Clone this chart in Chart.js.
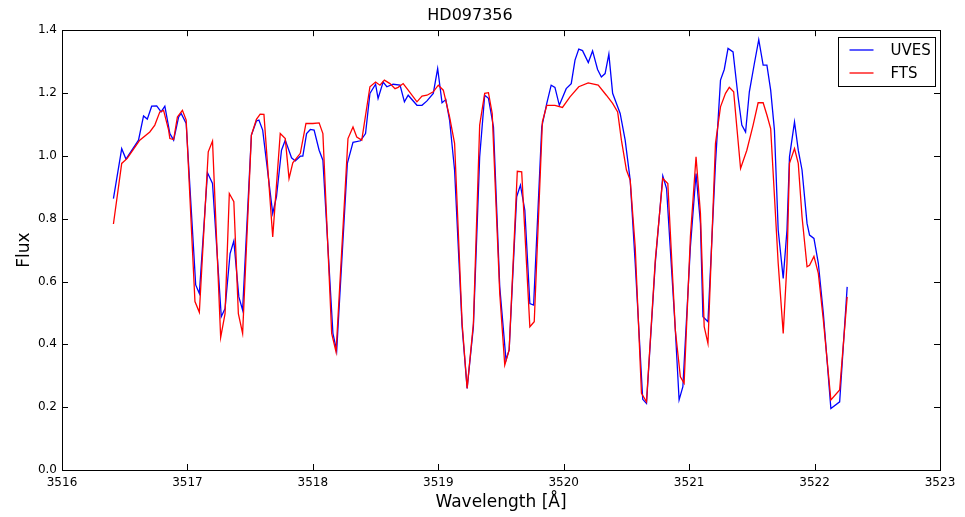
<!DOCTYPE html>
<html>
<head>
<meta charset="utf-8">
<title>HD097356</title>
<script src="https://cdn.jsdelivr.net/npm/chart.js@4.4.1/dist/chart.umd.min.js"></script>
<style>
    html, body { margin: 0; padding: 0; background: #fff; }
    #wrap { width: 965px; height: 517px; }
</style>
</head>
<body>
<div id="wrap"><canvas id="spectrumChart"></canvas></div>
<script>
// ========================================
// DATA
// ========================================
const uvesWave = [
    3516.41, 3516.476, 3516.51, 3516.61, 3516.65, 3516.68, 3516.715, 3516.755, 3516.79, 3516.82,
    3516.86, 3516.89, 3516.93, 3516.95, 3516.99, 3517.066, 3517.095, 3517.16, 3517.20, 3517.27,
    3517.30, 3517.34, 3517.37, 3517.41, 3517.44, 3517.51, 3517.55, 3517.57, 3517.60, 3517.68,
    3517.71, 3517.75, 3517.78, 3517.83, 3517.86, 3517.90, 3517.92, 3517.95, 3517.98, 3518.01,
    3518.05, 3518.08, 3518.16, 3518.19, 3518.275, 3518.32, 3518.38, 3518.42, 3518.455, 3518.50,
    3518.52, 3518.56, 3518.59, 3518.64, 3518.695, 3518.73, 3518.76, 3518.83, 3518.87, 3518.91,
    3518.96, 3518.995, 3519.03, 3519.06, 3519.09, 3519.13, 3519.19, 3519.23, 3519.28, 3519.33,
    3519.37, 3519.40, 3519.44, 3519.49, 3519.54, 3519.565, 3519.625, 3519.655, 3519.69, 3519.73,
    3519.76, 3519.825, 3519.865, 3519.90, 3519.93, 3519.965, 3520.02, 3520.06, 3520.09, 3520.12,
    3520.15, 3520.196, 3520.23, 3520.27, 3520.30, 3520.33, 3520.36, 3520.39, 3520.45, 3520.49,
    3520.53, 3520.57, 3520.63, 3520.66, 3520.73, 3520.79, 3520.82, 3520.89, 3520.92, 3520.95,
    3521.01, 3521.055, 3521.09, 3521.11, 3521.15, 3521.21, 3521.25, 3521.28, 3521.31, 3521.35,
    3521.39, 3521.42, 3521.45, 3521.48, 3521.52, 3521.555, 3521.59, 3521.62, 3521.65, 3521.68,
    3521.71, 3521.75, 3521.78, 3521.80, 3521.84, 3521.87, 3521.90, 3521.94, 3521.96, 3521.995,
    3522.03, 3522.07, 3522.13, 3522.20, 3522.26
];
const uvesFlux = [
    0.864, 1.023, 0.99, 1.05, 1.127, 1.117, 1.158, 1.159, 1.14, 1.158,
    1.071, 1.05, 1.124, 1.135, 1.103, 0.589, 0.562, 0.946, 0.912, 0.488,
    0.514, 0.689, 0.729, 0.551, 0.509, 1.066, 1.111, 1.114, 1.082, 0.817,
    0.87, 1.018, 1.05, 0.994, 0.984, 0.999, 0.999, 1.071, 1.084, 1.082,
    1.018, 0.986, 0.435, 0.38, 0.976, 1.043, 1.048, 1.071, 1.199, 1.228,
    1.183, 1.235, 1.22, 1.228, 1.225, 1.172, 1.193, 1.161, 1.161, 1.175,
    1.199, 1.278, 1.169, 1.179, 1.114, 0.954, 0.456, 0.26, 0.456, 0.997,
    1.193, 1.183, 1.092, 0.583, 0.35, 0.382, 0.87, 0.907, 0.827, 0.53,
    0.525, 1.092, 1.167, 1.225, 1.218, 1.161, 1.214, 1.23, 1.305, 1.34,
    1.335, 1.297, 1.334, 1.275, 1.251, 1.262, 1.324, 1.199, 1.135, 1.05,
    0.923, 0.658, 0.225, 0.212, 0.658, 0.936, 0.896, 0.445, 0.223, 0.265,
    0.71, 0.944, 0.785, 0.488, 0.472, 0.976, 1.241, 1.275, 1.342, 1.331,
    1.188, 1.098, 1.076, 1.204, 1.294, 1.37, 1.289, 1.289, 1.209, 1.082,
    0.764, 0.61, 0.764, 0.997, 1.108, 1.018, 0.955, 0.785, 0.748, 0.737,
    0.658, 0.498, 0.196, 0.217, 0.583
];

const ftsWave = [
    3516.41, 3516.476, 3516.52, 3516.62, 3516.70, 3516.74, 3516.78, 3516.81, 3516.85, 3516.86,
    3516.89, 3516.92, 3516.96, 3516.99, 3517.06, 3517.095, 3517.166, 3517.20, 3517.265, 3517.30,
    3517.334, 3517.37, 3517.406, 3517.44, 3517.51, 3517.55, 3517.58, 3517.61, 3517.68, 3517.74,
    3517.78, 3517.81, 3517.84, 3517.90, 3517.945, 3518.00, 3518.05, 3518.08, 3518.15, 3518.185,
    3518.28, 3518.32, 3518.35, 3518.39, 3518.455, 3518.50, 3518.535, 3518.57, 3518.615, 3518.655,
    3518.68, 3518.72, 3518.76, 3518.83, 3518.87, 3518.91, 3518.96, 3519.00, 3519.04, 3519.09,
    3519.13, 3519.19, 3519.23, 3519.28, 3519.33, 3519.37, 3519.40, 3519.43, 3519.49, 3519.53,
    3519.565, 3519.63, 3519.665, 3519.73, 3519.765, 3519.83, 3519.865, 3519.93, 3519.99, 3520.05,
    3520.12, 3520.195, 3520.275, 3520.34, 3520.39, 3520.43, 3520.46, 3520.50, 3520.53, 3520.57,
    3520.62, 3520.66, 3520.73, 3520.79, 3520.83, 3520.89, 3520.93, 3520.96, 3521.01, 3521.055,
    3521.09, 3521.12, 3521.15, 3521.21, 3521.25, 3521.29, 3521.32, 3521.355, 3521.38, 3521.41,
    3521.46, 3521.51, 3521.55, 3521.59, 3521.62, 3521.65, 3521.71, 3521.75, 3521.78, 3521.80,
    3521.84, 3521.87, 3521.90, 3521.94, 3521.96, 3521.995, 3522.03, 3522.07, 3522.13, 3522.20,
    3522.26
];
const ftsFlux = [
    0.783, 0.976, 0.992, 1.05, 1.076, 1.098, 1.14, 1.145, 1.082, 1.055,
    1.052, 1.124, 1.145, 1.114, 0.536, 0.502, 1.013, 1.047, 0.422, 0.498,
    0.88, 0.854, 0.498, 0.435, 1.066, 1.116, 1.133, 1.132, 0.742, 1.071,
    1.055, 0.928, 0.978, 1.008, 1.103, 1.103, 1.105, 1.071, 0.435, 0.376,
    1.055, 1.092, 1.06, 1.05, 1.22, 1.235, 1.225, 1.241, 1.23, 1.214,
    1.218, 1.23, 1.209, 1.172, 1.19, 1.193, 1.204, 1.225, 1.209, 1.124,
    1.04, 0.467, 0.26, 0.467, 1.098, 1.199, 1.201, 1.135, 0.562, 0.334,
    0.382, 0.951, 0.949, 0.456, 0.472, 1.108, 1.161, 1.161, 1.154, 1.188,
    1.22, 1.232, 1.225, 1.193, 1.167, 1.14, 1.05, 0.955, 0.923, 0.71,
    0.244, 0.217, 0.668, 0.928, 0.912, 0.445, 0.297, 0.276, 0.742, 0.997,
    0.817, 0.456, 0.403, 1.04, 1.156, 1.199, 1.218, 1.204, 1.092, 0.96,
    1.018, 1.098, 1.169, 1.169, 1.13, 1.087, 0.658, 0.435, 0.658, 0.976,
    1.023, 0.976, 0.806, 0.647, 0.652, 0.68, 0.626, 0.477, 0.223, 0.255,
    0.551
];

const seriesNames = ['UVES', 'FTS'];
const seriesColors = ['#0000ff', '#ff0000'];
const xRange = [3516, 3523];
const yRange = [0, 1.4];

const FONT = "'DejaVu Sans', 'Liberation Sans', sans-serif";

function toPoints(xs, ys) {
    return xs.map(function (x, i) { return { x: x, y: ys[i] }; });
}

// ========================================
// FRAME, INWARD TICKS AND LEGEND (matplotlib look)
// ========================================
const frameAndLegend = {
    id: 'frameAndLegend',
    afterDatasetsDraw(chart) {
        const ctx = chart.ctx;
        const a = chart.chartArea;
        const xs = chart.scales.x;
        const ys = chart.scales.y;
        const tickLen = 6;

        ctx.save();
        ctx.strokeStyle = '#000';
        ctx.lineWidth = 1;

        // inward ticks, all four sides
        ctx.beginPath();
        xs.ticks.forEach(function (t) {
            const px = Math.round(xs.getPixelForValue(t.value)) + 0.5;
            ctx.moveTo(px, a.bottom); ctx.lineTo(px, a.bottom - tickLen);
            ctx.moveTo(px, a.top); ctx.lineTo(px, a.top + tickLen);
        });
        ys.ticks.forEach(function (t) {
            const py = Math.round(ys.getPixelForValue(t.value)) + 0.5;
            ctx.moveTo(a.left, py); ctx.lineTo(a.left + tickLen, py);
            ctx.moveTo(a.right, py); ctx.lineTo(a.right - tickLen, py);
        });
        ctx.stroke();

        // axes box
        ctx.strokeRect(Math.round(a.left) + 0.5, Math.round(a.top) + 0.5,
            Math.round(a.right - a.left), Math.round(a.bottom - a.top));

        // legend box in upper right corner
        const boxW = 97, boxH = 49;
        const bx = Math.round(a.right) - 5 - boxW + 0.5;
        const by = Math.round(a.top) + 7 + 0.5;
        ctx.fillStyle = '#fff';
        ctx.fillRect(bx, by, boxW, boxH);
        ctx.strokeRect(bx, by, boxW, boxH);

        ctx.font = '15px ' + FONT;
        ctx.textBaseline = 'middle';
        ctx.textAlign = 'left';
        seriesNames.forEach(function (name, i) {
            const ly = by + 12.5 + i * 23;
            ctx.strokeStyle = seriesColors[i];
            ctx.lineWidth = 1.3;
            ctx.beginPath();
            ctx.moveTo(bx + 11, ly);
            ctx.lineTo(bx + 35, ly);
            ctx.stroke();
            ctx.fillStyle = '#000';
            ctx.fillText(name, bx + 52, ly + 1);
        });
        ctx.restore();
    }
};

// ========================================
// CHART
// ========================================
document.addEventListener('DOMContentLoaded', function () {
    const chartElement = document.getElementById('spectrumChart');

    new Chart(chartElement, {
        type: 'scatter',
        data: {
            datasets: [{
                label: seriesNames[0],
                data: toPoints(uvesWave, uvesFlux),
                borderColor: seriesColors[0],
                backgroundColor: seriesColors[0],
                borderWidth: 1.3,
                showLine: true,
                pointRadius: 0,
                tension: 0,
                order: 1
            }, {
                label: seriesNames[1],
                data: toPoints(ftsWave, ftsFlux),
                borderColor: seriesColors[1],
                backgroundColor: seriesColors[1],
                borderWidth: 1.3,
                showLine: true,
                pointRadius: 0,
                tension: 0,
                order: 0
            }]
        },
        options: {
            responsive: true,
            maintainAspectRatio: false,
            animation: false,
            layout: { padding: { left: 0, right: 25, top: 0, bottom: 0 } },
            plugins: {
                legend: { display: false },
                tooltip: { enabled: false },
                title: {
                    display: true,
                    text: 'HD097356',
                    color: '#000',
                    font: { family: FONT, size: 16, weight: 'normal' },
                    padding: { top: 6, bottom: 5 }
                }
            },
            scales: {
                x: {
                    type: 'linear',
                    min: xRange[0],
                    max: xRange[1],
                    afterFit: function (s) { s.height = 47; },
                    ticks: {
                        stepSize: 1,
                        color: '#000',
                        padding: 6,
                        font: { family: FONT, size: 12 },
                        maxRotation: 0,
                        callback: function (v) { return String(v); }
                    },
                    grid: { display: false, drawTicks: false },
                    border: { display: false },
                    title: {
                        display: true,
                        text: 'Wavelength [Å]',
                        color: '#000',
                        font: { family: FONT, size: 17 },
                        padding: { top: 0, bottom: 4 }
                    }
                },
                y: {
                    min: yRange[0],
                    max: yRange[1],
                    afterFit: function (s) { s.width = 62; },
                    ticks: {
                        stepSize: 0.2,
                        color: '#000',
                        padding: 5,
                        font: { family: FONT, size: 12 },
                        callback: function (v) { return v.toFixed(1); }
                    },
                    grid: { display: false, drawTicks: false },
                    border: { display: false },
                    title: {
                        display: true,
                        text: 'Flux',
                        color: '#000',
                        font: { family: FONT, size: 17 },
                        padding: { top: 14, bottom: 0 }
                    }
                }
            }
        },
        plugins: [frameAndLegend]
    });
});
</script>
</body>
</html>
